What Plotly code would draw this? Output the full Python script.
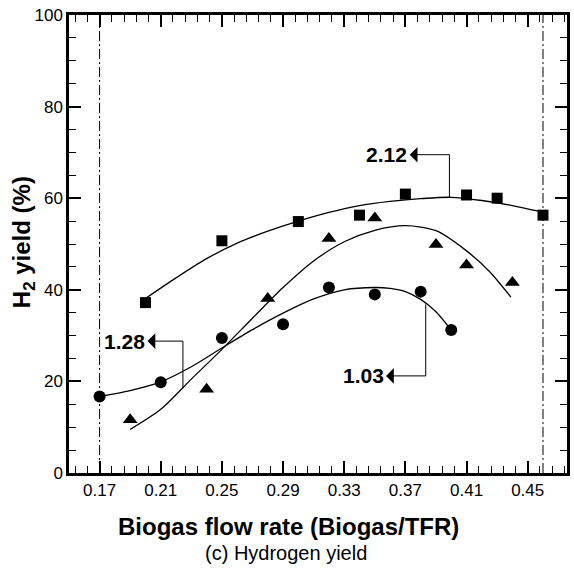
import plotly.graph_objects as go

# ---------------- data ----------------
# Measured points (TFR = 2.12, 1.28, 1.03)
x_212 = [0.20, 0.25, 0.30, 0.34, 0.37, 0.41, 0.43, 0.46]
y_212 = [37.2, 50.7, 54.9, 56.3, 60.9, 60.7, 60.0, 56.3]

x_128 = [0.19, 0.24, 0.28, 0.32, 0.35, 0.39, 0.41, 0.44]
y_128 = [11.6, 18.3, 38.1, 51.2, 55.7, 49.9, 45.4, 41.6]

x_103 = [0.17, 0.21, 0.25, 0.29, 0.32, 0.35, 0.38, 0.40]
y_103 = [16.7, 19.8, 29.5, 32.5, 40.5, 39.0, 39.6, 31.2]

# Trend curves
fit_212_x = [0.200, 0.22, 0.24, 0.26, 0.28, 0.30, 0.32, 0.34, 0.36, 0.38, 0.40, 0.42, 0.44, 0.458]
fit_212_y = [38.1, 42.6, 46.8, 50.2, 52.8, 55.0, 56.9, 58.4, 59.3, 59.9, 60.2, 59.5, 58.4, 57.1]

fit_128_x = [0.190, 0.21, 0.23, 0.25, 0.27, 0.29, 0.31, 0.33, 0.35, 0.37, 0.39, 0.41, 0.425, 0.439]
fit_128_y = [9.5, 13.9, 20.5, 27.0, 33.8, 40.5, 46.3, 50.5, 53.0, 54.0, 52.9, 48.5, 44.0, 38.4]

fit_103_x = [0.170, 0.19, 0.21, 0.23, 0.25, 0.27, 0.29, 0.31, 0.33, 0.35, 0.36, 0.37, 0.38, 0.39, 0.399]
fit_103_y = [16.7, 18.0, 19.9, 23.2, 27.3, 31.3, 34.9, 38.0, 40.0, 40.5, 40.3, 39.6, 37.9, 35.2, 31.6]

limit_lines = [0.17, 0.46]

x_tickvals = [0.17, 0.21, 0.25, 0.29, 0.33, 0.37, 0.41, 0.45]
x_ticktext = ["0.17", "0.21", "0.25", "0.29", "0.33", "0.37", "0.41", "0.45"]
y_tickvals = [0, 20, 40, 60, 80, 100]
y_ticktext = ["0", "20", "40", "60", "80", "100"]

labels = ["2.12", "1.28", "1.03"]

FONT = "Liberation Sans, Arial, sans-serif"

fig = go.Figure()

# curves
for fx, fy in [(fit_212_x, fit_212_y), (fit_128_x, fit_128_y), (fit_103_x, fit_103_y)]:
    fig.add_trace(go.Scatter(x=fx, y=fy, mode="lines",
                             line=dict(color="black", width=1.3, shape="spline", smoothing=0.8),
                             hoverinfo="skip", showlegend=False))

# markers
fig.add_trace(go.Scatter(x=x_212, y=y_212, mode="markers",
                         marker=dict(symbol="square", size=11, color="black"), showlegend=False))
fig.add_trace(go.Scatter(x=x_128, y=y_128, mode="markers",
                         marker=dict(symbol="triangle-up", size=13, color="black"), showlegend=False))
fig.add_trace(go.Scatter(x=x_103, y=y_103, mode="markers",
                         marker=dict(symbol="circle", size=12, color="black"), showlegend=False))

# dash-dot limit lines
for lx in limit_lines:
    fig.add_shape(type="line", x0=lx, x1=lx, y0=0, y1=100, xref="x", yref="y",
                  line=dict(color="black", width=1, dash="10px,3px,2px,3px"))

# leader lines: vertical part as shape, horizontal part + head from the label annotation
leaders = [
    # label, text_center_x, text_y, corner_x, curve_y
    (labels[0], 0.3578, 69.5, 0.3988, 60.1),
    (labels[1], 0.1863, 28.8, 0.2245, 18.5),
    (labels[2], 0.3423, 21.2, 0.3833, 36.8),
]
for lab, tx, ty, cx, cy in leaders:
    fig.add_shape(type="line", x0=cx, x1=cx, y0=cy, y1=ty, xref="x", yref="y",
                  line=dict(color="black", width=1))
    fig.add_annotation(x=cx, y=ty, ax=tx, ay=ty, xref="x", yref="y", axref="x", ayref="y",
                       text="<b>%s</b>" % lab, showarrow=True, arrowside="start",
                       startarrowhead=1, startarrowsize=2.6, arrowwidth=1,
                       arrowcolor="black", standoff=0, startstandoff=1,
                       font=dict(family=FONT, size=21, color="black"))

# axis titles
fig.add_annotation(x=0.4408, y=-0.116, xref="paper", yref="paper",
                   text="<b>Biogas flow rate (Biogas/TFR)</b>", showarrow=False,
                   xanchor="center", yanchor="middle",
                   font=dict(family=FONT, size=24, color="black"))
fig.add_annotation(x=0.4357, y=-0.1747, xref="paper", yref="paper",
                   text="(c) Hydrogen yield", showarrow=False,
                   xanchor="center", yanchor="middle",
                   font=dict(family=FONT, size=20, color="black"))
fig.add_annotation(x=-0.0915, y=0.505, xref="paper", yref="paper",
                   text="<b>H<sub>2</sub> yield (%)</b>", showarrow=False, textangle=-90,
                   xanchor="center", yanchor="middle",
                   font=dict(family=FONT, size=24, color="black"))

axis_common = dict(showgrid=False, zeroline=False, showline=True, linecolor="black",
                   linewidth=2.5, mirror="allticks", ticks="inside", tickcolor="black",
                   tickwidth=2, ticklen=12, automargin=False, ticklabeloverflow="allow",
                   tickfont=dict(family=FONT, size=17, color="black"))

fig.update_xaxes(range=[0.150, 0.4757], tickvals=x_tickvals, ticktext=x_ticktext,
                 minor=dict(ticks="inside", dtick=0.008, tick0=0.17, ticklen=7,
                            tickwidth=1, tickcolor="black", showgrid=False),
                 **axis_common)
fig.update_yaxes(range=[0, 100], tickvals=y_tickvals, ticktext=y_ticktext,
                 minor=dict(ticks="inside", dtick=5, tick0=0, ticklen=7,
                            tickwidth=1, tickcolor="black", showgrid=False),
                 **axis_common)

fig.update_layout(width=574, height=574, margin=dict(l=69, r=7, t=15, b=101),
                  plot_bgcolor="white", paper_bgcolor="white", showlegend=False,
                  font=dict(family=FONT, color="black"))

# remove the page's default body margin so the figure fills the window exactly
fig.write_html("out.html", config={"displayModeBar": False},
               post_script="document.body.style.margin='0px';")
